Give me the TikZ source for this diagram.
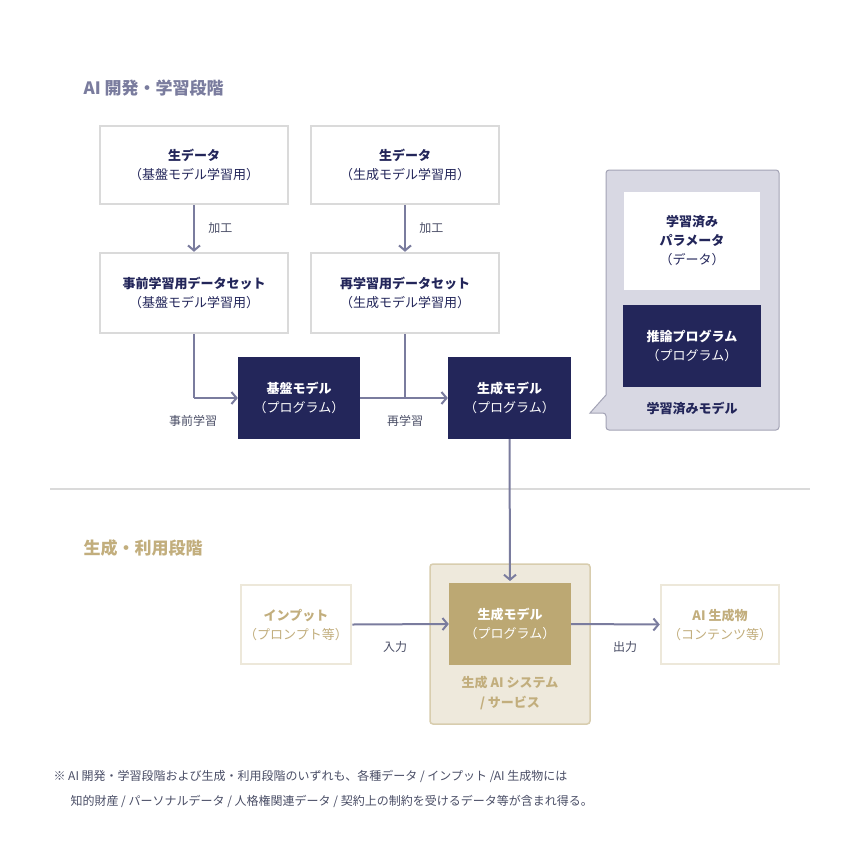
\documentclass[tikz,border=0pt]{standalone}
\usepackage{fontspec}
\setmainfont{Noto Sans CJK JP}
\newfontfamily\jpb{Noto Sans CJK JP Bold}
\usetikzlibrary{arrows.meta}
\definecolor{navy}{HTML}{23265A}
\definecolor{gline}{HTML}{DADADA}
\definecolor{gtext}{HTML}{4A4E66}
\definecolor{arr}{HTML}{7A7C9E}
\definecolor{bub}{HTML}{D8D8E3}
\definecolor{bubline}{HTML}{A3A3B5}
\definecolor{gold}{HTML}{BCA873}
\definecolor{goldt}{HTML}{C2AE7D}
\definecolor{sysfill}{HTML}{EEE9DC}
\definecolor{sysline}{HTML}{D8CDAE}
\definecolor{pale}{HTML}{EDE8DA}
\begin{document}
\begin{tikzpicture}[x=1pt,y=-1pt,
  wbox/.style={draw=gline,line width=2.5pt,fill=white,align=center,text=navy,font=\fontsize{13}{19}\selectfont},
  nbox/.style={fill=navy,align=center,text=white,font=\fontsize{13}{19}\selectfont},
  pbox/.style={draw=pale,line width=2.5pt,fill=white,align=center,text=goldt,font=\fontsize{13}{19}\selectfont},
  lab/.style={text=gtext,font=\fontsize{12}{16}\selectfont},
  ar/.style={draw=arr,line width=2pt,-{Straight Barb[length=5pt,width=12pt,line width=2pt]}},
  ln/.style={draw=arr,line width=2pt}]
\fill[white] (0,0) rectangle (860,860);
\useasboundingbox (0,0) rectangle (860,860);
\node[anchor=west,text=arr,font=\fontsize{17}{20}\selectfont\bfseries] (t1) at (80,88) {AI 開発・学習段階};
\node[wbox,minimum width=188,minimum height=78] (r1) at (194,165) {\textbf{生データ}\\（基盤モデル学習用）};
\node[wbox,minimum width=188,minimum height=78] (r2) at (405,165) {\textbf{生データ}\\（生成モデル学習用）};
\node[wbox,minimum width=188,minimum height=80] (d1) at (194,293) {\textbf{事前学習用データセット}\\（基盤モデル学習用）};
\node[wbox,minimum width=188,minimum height=80] (d2) at (405,293) {\textbf{再学習用データセット}\\（生成モデル学習用）};
\node[nbox,minimum width=122,minimum height=82] (m1) at (299,398) {\textbf{基盤モデル}\\（プログラム）};
\node[nbox,minimum width=123,minimum height=82] (m2) at (509.5,398) {\textbf{生成モデル}\\（プログラム）};
\draw[ar] (r1) -- (d1) node[midway,right=10pt,lab]{加工};
\draw[ar] (r2) -- (d2) node[midway,right=10pt,lab]{加工};
\coordinate (c1) at (194,398);
\coordinate (c2) at (405,398);
\draw[ln] (d1.south) -- (c1);
\draw[ar] (c1) -- (m1.west);
\draw[ln] (d2.south) -- (c2);
\draw[ar] (m1.east) -- (m2.west);
\node[lab] (l1) at (193,421) {事前学習};
\node[lab] (l2) at (405,421) {再学習};
% bubble
\draw[draw=bubline,fill=bub,line width=1pt,rounded corners=3pt] (606,170) -- (779,170) -- (779,430) -- (606,430) -- (606,413) [sharp corners]-- (590,413) -- (606,395) [rounded corners=3pt]-- cycle;
\node[wbox,draw=none,minimum width=136,minimum height=98] (p1) at (692,241) {\textbf{学習済み}\\\textbf{パラメータ}\\（データ）};
\node[nbox,minimum width=138,minimum height=82] (p2) at (692,346) {\textbf{推論プログラム}\\（プログラム）};
\node[text=navy,font=\fontsize{13}{16}\selectfont\bfseries] (p3) at (692,408) {学習済みモデル};
% divider
\draw[gline,line width=2pt] (50,489) -- (810,489);
\node[anchor=west,text=goldt,font=\fontsize{17}{20}\selectfont\bfseries] (t2) at (80,548) {生成・利用段階};
\draw[draw=sysline,fill=sysfill,line width=1.5pt,rounded corners=3pt] (430,564) rectangle (590,724);
\node[fill=gold,minimum width=122,minimum height=82,align=center,text=white,font=\fontsize{13}{19}\selectfont] (g) at (510,624) {\textbf{生成モデル}\\（プログラム）};
\node[text=goldt,align=center,font=\fontsize{13}{20}\selectfont\bfseries] (s) at (510,693) {生成 AI システム\\/ サービス};
\node[pbox,minimum width=110,minimum height=79] (in) at (296,624.5) {\textbf{インプット}\\（プロンプト等）};
\node[pbox,minimum width=118,minimum height=79] (out) at (720,624.5) {\textbf{AI 生成物}\\（コンテンツ等）};
\draw[ar] (m2.south) -- (510,581);
\draw[ar] (in.east) -- (g.west);
\draw[ar] (g.east) -- (out.west);
\node[lab] (l3) at (395,647) {入力};
\node[lab] (l4) at (625,647) {出力};
\node[anchor=west,text=gtext,font=\fontsize{12}{25}\selectfont,align=left] (fn) at (50,789) {※ AI 開発・学習段階および生成・利用段階のいずれも、各種データ / インプット /AI 生成物には\\\hspace*{17pt}知的財産 / パーソナルデータ / 人格権関連データ / 契約上の制約を受けるデータ等が含まれ得る。};
\end{tikzpicture}
\end{document}
